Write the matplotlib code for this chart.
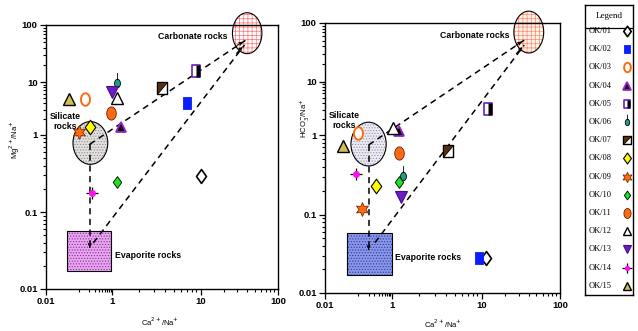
import numpy as np
import matplotlib
matplotlib.use('Agg')
import matplotlib.pyplot as plt
from matplotlib.path import Path
from matplotlib.patches import Ellipse, Rectangle
from matplotlib.ticker import FixedLocator

# ---- data ----
samples = ['OK/01', 'OK/02', 'OK/03', 'OK/04', 'OK/05', 'OK/06', 'OK/07', 'OK/08',
           'OK/09', 'OK/10', 'OK/11', 'OK/12', 'OK/13', 'OK/14', 'OK/15']

# Mg/Na vs Ca/Na panel
ca_na_1 = [10.0, 7.1, 0.15, 1.27, 9.0, 1.14, 3.7, 0.22, 0.10, 1.15, 0.90, 1.15, 0.98, 0.25, 0.05]
mg_na = [0.29, 4.0, 4.8, 1.4, 15.8, 9.8, 7.8, 1.4, 1.12, 0.245, 2.6, 5.0, 6.5, 0.18, 4.8]

# HCO3/Na vs Ca/Na panel
ca_na_2 = [11.5, 9.3, 0.095, 1.2, 12.0, 1.33, 4.2, 0.33, 0.127, 1.2, 1.2, 1.02, 1.26, 0.085, 0.034]
hco3_na = [0.028, 0.028, 1.1, 1.2, 3.1, 0.31, 0.63, 0.23, 0.118, 0.26, 0.6, 1.35, 0.165, 0.32, 0.72]

# end members (centres) and evaporite box
carb_1 = (40, 72)
sil_1 = (0.22, 0.78)
evap_x_1 = (0.043, 0.95)
evap_y_1 = (0.017, 0.057)
carb_2 = (40, 70)
sil_2 = (0.2, 0.77)
evap_x_2 = (0.045, 1.0)
evap_y_2 = (0.017, 0.058)

# mixing lines (start, end)
lines_1 = [((0.21, 0.75), (38, 54)), ((0.27, 0.04), (37, 45)), ((0.21, 0.75), (0.21, 0.032))]
lines_2 = [((0.2, 0.75), (35, 51)), ((0.31, 0.044), (35, 42)), ((0.2, 0.75), (0.2, 0.033))]

x_ticks = [0.01, 1, 10, 100]
x_ticklabels = ['0.01', '1', '10', '100']
y_ticks = [0.01, 0.1, 1, 10, 100]
y_ticklabels = ['0.01', '0.1', '1', '10', '100']

# the original axes are not evenly spaced per decade
x_breaks = ([-2, 0, 1, 2], [0, 0.285, 0.666, 1])
y_breaks = ([-2, -1, 0, 1, 2], [0, 0.29, 0.585, 0.783, 1])

NARROW = ['Liberation Sans Narrow', 'Liberation Sans', 'DejaVu Sans']
SERIF = ['Liberation Serif', 'DejaVu Serif']
plt.rcParams['hatch.linewidth'] = 0.5


def make_scale(logs, fracs):
    logs = np.asarray(logs, float)
    fracs = np.asarray(fracs, float)
    s0 = (fracs[1] - fracs[0]) / (logs[1] - logs[0])
    s1 = (fracs[-1] - fracs[-2]) / (logs[-1] - logs[-2])
    lg = np.r_[logs[0] - 300, logs, logs[-1] + 300]
    fr = np.r_[fracs[0] - 300 * s0, fracs, fracs[-1] + 300 * s1]

    def fwd(v):
        v = np.asarray(v, float)
        l = np.log10(np.where(v > 0, v, 1e-290))
        return np.interp(l, lg, fr)

    def inv(f):
        return 10 ** np.interp(np.asarray(f, float), fr, lg)
    return fwd, inv


def ellipse_path(rx, ry, cy=0.0):
    t = np.linspace(0, 2 * np.pi, 40)
    return np.c_[rx * np.cos(t), cy + ry * np.sin(t)]


diamond = Path([(0, 1), (0.72, 0), (0, -1), (-0.72, 0), (0, 1)], closed=True)
rect = Path([(-0.65, -1), (0.65, -1), (0.65, 1), (-0.65, 1), (-0.65, -1)], closed=True)
rect_right = Path([(0.05, -1), (0.65, -1), (0.65, 1), (0.05, 1), (0.05, -1)], closed=True)
rect7 = Path([(-0.8, -1), (0.8, -1), (0.8, 1), (-0.8, 1), (-0.8, -1)], closed=True)
tri7 = Path([(-0.8, -1), (-0.8, 1), (0.8, 1), (-0.8, -1)], closed=True)
oval = Path(ellipse_path(0.72, 1.0), closed=True)
body = ellipse_path(0.45, 0.65)
pin = Path(np.r_[body, [[0, 0.65], [0, 1.6]]],
           [Path.MOVETO] + [Path.LINETO] * (len(body) - 2) + [Path.CLOSEPOLY, Path.MOVETO, Path.LINETO])


def draw_marker(ax, x, y, i, k=1.0, z=5):
    def p(**kw):
        kw['ms'] = kw['ms'] * k
        ax.plot(x, y, ls='none', zorder=z, clip_on=False, **kw)
    if i == 0:
        p(marker=diamond, mfc='white', mec='black', mew=1.2, ms=10)
    elif i == 1:
        p(marker=rect, mfc='#0a1eff', mec='#0a1eff', mew=0.6, ms=8.5)
    elif i == 2:
        p(marker=oval, mfc='white', mec='#ff6a0f', mew=1.4, ms=9)
    elif i == 3:
        p(marker='^', mfc='black', mec='#a020d0', mew=1.3, ms=7.5)
    elif i == 4:
        p(marker=rect, mfc='white', mec='#6a1fc0', mew=1.2, ms=8.5)
        p(marker=rect_right, mfc='black', mec='none', ms=8.5)
    elif i == 5:
        p(marker=pin, mfc='#1aa08a', mec='black', mew=0.6, ms=15)
    elif i == 6:
        p(marker=rect7, mfc='white', mec='black', mew=1.0, ms=8.5)
        p(marker=tri7, mfc='#5a2d0c', mec='black', mew=0.6, ms=8.5)
    elif i == 7:
        p(marker=diamond, mfc='#ffff00', mec='black', mew=0.8, ms=10.5)
    elif i == 8:
        p(marker=(6, 1, 0), mfc='#ff6a13', mec='#7a3000', mew=0.6, ms=10)
    elif i == 9:
        p(marker=diamond, mfc='#22e022', mec='black', mew=0.6, ms=8.5)
    elif i == 10:
        p(marker=oval, mfc='#ff6a13', mec='#602000', mew=0.6, ms=9.5)
    elif i == 11:
        p(marker='^', mfc='white', mec='black', mew=1.0, ms=8)
    elif i == 12:
        p(marker='v', mfc='#6a1fc0', mec='#4a0a90', mew=0.8, ms=8)
    elif i == 13:
        p(marker='+', mfc='none', mec='black', mew=0.9, ms=9)
        p(marker='o', mfc='#ff10f0', mec='#ff10f0', mew=0.5, ms=4.5)
    elif i == 14:
        p(marker='^', mfc='#d0c050', mec='black', mew=1.0, ms=8)


def to_axes(ax, pt):
    return ax.transAxes.inverted().transform(ax.transData.transform(pt))


def hatched_ellipse(ax, centre, w, h, fc, hc, hatch):
    c = to_axes(ax, centre)
    ax.add_patch(Ellipse(c, w, h, transform=ax.transAxes, facecolor=fc, edgecolor=hc,
                         hatch=hatch, lw=0, clip_on=False, zorder=2))
    ax.add_patch(Ellipse(c, w, h, transform=ax.transAxes, fill=False, edgecolor='black',
                         lw=0.8, clip_on=False, zorder=2))


def panel(ax, xs, ys, carb, sil, ex, ey, mix, cols, labpos):
    fx = make_scale(*x_breaks)
    fy = make_scale(*y_breaks)
    ax.set_xscale('function', functions=fx)
    ax.set_yscale('function', functions=fy)
    ax.set_xlim(0.01, 100)
    ax.set_ylim(0.01, 100)
    ax.set_xticks(x_ticks, x_ticklabels)
    ax.set_yticks(y_ticks, y_ticklabels)
    xminor = [0.1 * m for m in range(1, 10)] + [m for m in range(2, 10)] + [10 * m for m in range(2, 10)]
    yminor = [d * m for d in [0.01, 0.1, 1, 10] for m in range(2, 10)]
    ax.xaxis.set_minor_locator(FixedLocator(xminor))
    ax.yaxis.set_minor_locator(FixedLocator(yminor))
    ax.tick_params(which='major', direction='out', length=4, width=0.9, pad=2)
    ax.tick_params(which='minor', direction='out', length=2.5, width=0.8)
    for lab in ax.get_xticklabels() + ax.get_yticklabels():
        lab.set_family(NARROW)
        lab.set_fontsize(6.8)
        lab.set_weight('bold')
    for s in ax.spines.values():
        s.set_linewidth(1.0)

    hatched_ellipse(ax, carb, 0.127, 0.155, cols[0], cols[1], '++++')
    hatched_ellipse(ax, sil, 0.15, 0.162, cols[2], cols[3], '......')
    ax.add_patch(Rectangle((ex[0], ey[0]), ex[1] - ex[0], ey[1] - ey[0], facecolor=cols[4],
                           edgecolor=cols[5], hatch='......', lw=0, zorder=2))
    ax.add_patch(Rectangle((ex[0], ey[0]), ex[1] - ex[0], ey[1] - ey[0], fill=False,
                           edgecolor='black', lw=0.8, zorder=2))

    for (a, b) in mix:
        ax.plot([a[0], b[0]], [a[1], b[1]], color='black', lw=1.1, dashes=(4, 3), zorder=3)
        # small arrow head at the end of each mixing line
        near = (a[0] ** 0.06 * b[0] ** 0.94, a[1] ** 0.06 * b[1] ** 0.94)
        ax.annotate('', xy=b, xytext=near,
                    arrowprops=dict(arrowstyle='->', lw=0.8, mutation_scale=5), zorder=3)

    ax.text(labpos[0][0], labpos[0][1], 'Carbonate rocks', transform=ax.transAxes, ha='right',
            va='center', fontsize=6.3, family=NARROW, weight='bold', zorder=6)
    ax.text(labpos[1][0], labpos[1][1], 'Silicate\nrocks', transform=ax.transAxes, ha='center',
            va='center', fontsize=6.3, family=NARROW, weight='bold', linespacing=1.15, zorder=6)
    ax.text(labpos[2][0], labpos[2][1], 'Evaporite rocks', transform=ax.transAxes, ha='left',
            va='center', fontsize=6.3, family=NARROW, weight='bold', zorder=6)

    for i in range(len(samples)):
        draw_marker(ax, xs[i], ys[i], i)


W, H = 638, 331
fig = plt.figure(figsize=(W / 100, H / 100), dpi=100)

ax1 = fig.add_axes([46 / W, (H - 289) / H, 232 / W, 264 / H])
panel(ax1, ca_na_1, mg_na, carb_1, sil_1, evap_x_1, evap_y_1, lines_1,
      ['#ffffff', '#ff7070', '#e4e0e0', '#8a8a8a', '#e7a6ee', '#8a2aa0'],
      [(0.784, 0.958), (0.082, 0.636), (0.297, 0.125)])

ax2 = fig.add_axes([325 / W, (H - 293) / H, 235 / W, 270 / H])
panel(ax2, ca_na_2, hco3_na, carb_2, sil_2, evap_x_2, evap_y_2, lines_2,
      ['#fff0e8', '#f09070', '#ecebf3', '#9090a8', '#8a96e8', '#2a3aa0'],
      [(0.783, 0.952), (0.081, 0.64), (0.298, 0.13)])

fig.text(15 / W, 1 - 140 / H, r'Mg$^{2+}$/Na$^{+}$', rotation=90, ha='center', va='center',
         fontsize=5.5, family=NARROW)
fig.text(160 / W, 1 - 322 / H, r'Ca$^{2+}$/Na$^{+}$', ha='center', va='center',
         fontsize=5.5, family=NARROW)
fig.text(305 / W, 1 - 118 / H, r'HCO$_3^{-}$/Na$^{+}$', rotation=90, ha='center', va='center',
         fontsize=5.5, family=NARROW)
fig.text(443 / W, 1 - 324 / H, r'Ca$^{2+}$/Na$^{+}$', ha='center', va='center',
         fontsize=5.5, family=NARROW)

# legend box drawn by hand, in pixel units
lg = fig.add_axes([585 / W, (H - 295) / H, 48 / W, 290 / H])
lg.set_xlim(0, 48)
lg.set_ylim(290, 0)
lg.set_xticks([])
lg.set_yticks([])
for s in lg.spines.values():
    s.set_linewidth(1.0)
lg.text(24, 11, 'Legend', ha='center', va='center', fontsize=6.5, family=SERIF)
lg.axhline(23, color='black', lw=0.9)
for i, name in enumerate(samples):
    yy = 26 + i * 18.2
    lg.text(15, yy, name, ha='center', va='center', fontsize=6, family=SERIF)
    draw_marker(lg, [42], [yy], i, k=0.75)

fig.savefig('out.png', dpi=100)
